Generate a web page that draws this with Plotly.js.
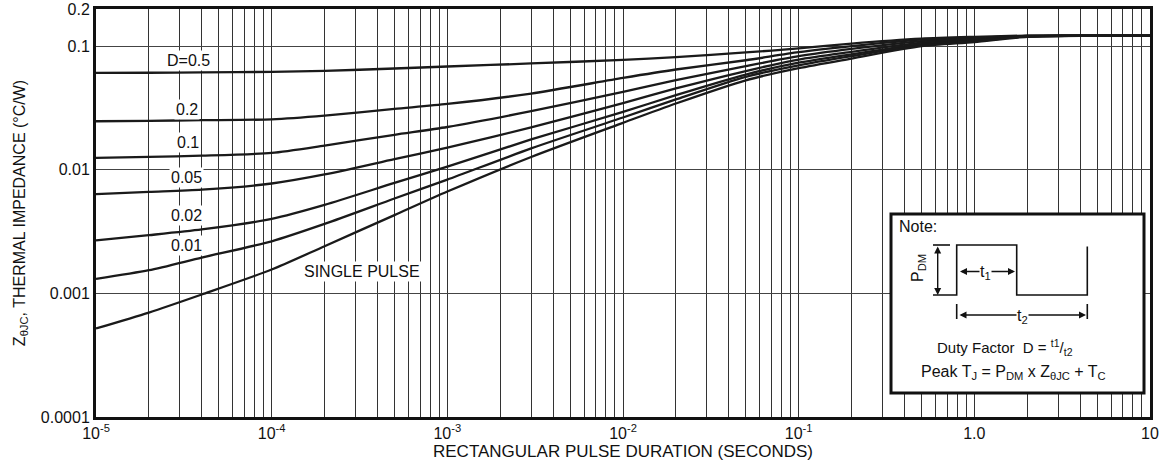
<!DOCTYPE html>
<html><head><meta charset="utf-8">
<script src="https://cdn.plot.ly/plotly-3.0.1.min.js"></script>
<style>html,body{margin:0;padding:0;background:#fff}#chart{width:1161px;height:465px}</style>
</head><body><div id="chart"></div>
<script>
// ---- data ----
const pulseDuration = [1e-5, 2e-5, 4e-5, 1e-4, 2e-4, 5e-4, 1e-3, 3e-3, 1e-2, 2e-2, 5e-2, 1e-1, 2e-1, 5e-1, 1, 2, 5, 10];
const zD050 = [0.0608, 0.0610, 0.0614, 0.0620, 0.0631, 0.0660, 0.0685, 0.0725, 0.0775, 0.0815, 0.0890, 0.0960, 0.105, 0.115, 0.119, 0.122, 0.122, 0.122];
const zD020 = [0.0247, 0.0249, 0.0252, 0.0256, 0.0274, 0.0311, 0.0341, 0.0414, 0.0554, 0.0648, 0.0770, 0.0894, 0.100, 0.113, 0.117, 0.121, 0.122, 0.122];
const zD010 = [0.01247, 0.0127, 0.0130, 0.0137, 0.0157, 0.0192, 0.0222, 0.0298, 0.0427, 0.0531, 0.0690, 0.0830, 0.095, 0.110, 0.115, 0.121, 0.122, 0.122];
const zD005 = [0.00635, 0.00662, 0.0069, 0.00775, 0.00917, 0.0122, 0.0151, 0.0220, 0.0347, 0.0455, 0.0630, 0.0780, 0.090, 0.107, 0.113, 0.120, 0.122, 0.122];
const zD002 = [0.00269, 0.00296, 0.00329, 0.00401, 0.00520, 0.00783, 0.0106, 0.0176, 0.0294, 0.0402, 0.0590, 0.0735, 0.086, 0.104, 0.111, 0.120, 0.122, 0.122];
const zD001 = [0.00131, 0.00154, 0.00195, 0.00264, 0.00365, 0.00586, 0.00833, 0.0149, 0.0265, 0.0371, 0.0565, 0.0700, 0.083, 0.102, 0.110, 0.120, 0.122, 0.122];
const zSingle = [0.00052, 0.00070, 0.00098, 0.00156, 0.00241, 0.00430, 0.00667, 0.0127, 0.0240, 0.0344, 0.0530, 0.0664, 0.0795, 0.100, 0.108, 0.119, 0.122, 0.122];
const seriesNames = ['D=0.5', '0.2', '0.1', '0.05', '0.02', '0.01', 'SINGLE PULSE'];
const seriesValues = [zD050, zD020, zD010, zD005, zD002, zD001, zSingle];

const xTickVals = [1e-5, 1e-4, 1e-3, 1e-2, 1e-1, 1, 10];
const xTickText = ['10<sup>-5</sup>', '10<sup>-4</sup>', '10<sup>-3</sup>', '10<sup>-2</sup>', '10<sup>-1</sup>', '1.0', '10'];
const yTickVals = [0.0001, 0.001, 0.01, 0.1, 0.2];
const yTickText = ['0.0001', '0.001', '0.01', '0.1', '0.2'];

// minor grid positions 2..9 in every decade
const xMinor = [];
xTickVals.slice(0, -1).forEach(d => { for (let k = 2; k <= 9; k++) xMinor.push(d * k); });

// ---- layout helpers (pixel -> paper) ----
const L = 96, T = 9, W = 1054, H = 408;
const px = x => (x - L) / W;
const py = y => 1 - (y - T) / H;
const FONT = 'Liberation Sans, Arial, Helvetica, sans-serif';

const traces = seriesValues.map((v, i) => ({
  x: pulseDuration, y: v, name: seriesNames[i], type: 'scatter', mode: 'lines',
  line: {color: '#1a1a1a', width: 2.3, shape: 'spline', smoothing: 0.7},
  hoverinfo: 'x+y+name'
}));

// curve labels
const labelPos = [[188.7, 60.7], [186.7, 109], [187.7, 142.7], [186.7, 177.3], [186, 215.7], [186, 245.7], [361.7, 271.7]];
const annotations = seriesNames.map((n, i) => ({
  xref: 'paper', yref: 'paper', x: px(labelPos[i][0]), y: py(labelPos[i][1]),
  xanchor: 'center', yanchor: 'middle', text: n, showarrow: false,
  bgcolor: '#fff', borderpad: 1, font: {family: FONT, size: 16, color: '#111'}
}));

function txt(t, x, y, size, opts) {
  return Object.assign({xref: 'paper', yref: 'paper', x: px(x), y: py(y), xanchor: 'center', yanchor: 'middle',
    text: t, showarrow: false, font: {family: FONT, size: size, color: '#111'}}, opts || {});
}
function arrow(hx, hy, tx, ty) {
  return {xref: 'paper', yref: 'paper', x: px(hx), y: py(hy), axref: 'pixel', ayref: 'pixel',
    ax: tx - hx, ay: ty - hy, text: '', showarrow: true, arrowside: 'end+start',
    arrowhead: 2, startarrowhead: 2, arrowsize: 1, startarrowsize: 1, arrowwidth: 1.4,
    arrowcolor: '#111', standoff: 0, startstandoff: 0};
}

// inset
annotations.push(arrow(937.7, 295, 937.7, 245));
annotations.push(arrow(1015, 271.5, 958.5, 271.5));
annotations.push(arrow(1086, 315, 958, 315));
annotations.push(txt('Note:', 897, 226, 16, {xanchor: 'left'}));
annotations.push(txt('P<sub>DM</sub>', 918, 268, 16, {textangle: -90}));
annotations.push(txt('t<sub>1</sub>', 985, 272, 16, {bgcolor: '#fff', borderpad: 0}));
annotations.push(txt('t<sub>2</sub>', 1022, 316, 16, {bgcolor: '#fff', borderpad: 0}));
annotations.push(txt('Duty Factor  D = <sup>t1</sup>/<sub>t2</sub>', 1005, 347, 15));
annotations.push(txt('Peak T<sub>J</sub> = P<sub>DM</sub> x Z<sub>θJC</sub> + T<sub>C</sub>', 1013, 372, 16));
// caption (cut off at bottom of the image, as in the reference)
annotations.push(txt('<b><i>Figure 1. Maximum Effective Transient Thermal Impedance, Junction-to-Case vs. Pulse Duration</i></b>', 570, 462, 15, {yanchor: 'top'}));

const pathOf = pts => pts.map((p, i) => (i ? 'L' : 'M') + px(p[0]).toFixed(5) + ',' + py(p[1]).toFixed(5)).join(' ');
const lineStyle = {color: '#111', width: 1.6};
const shapes = [
  {type: 'rect', xref: 'paper', yref: 'paper', x0: px(891), x1: px(1144), y0: py(393), y1: py(214),
   line: {color: '#111', width: 3}, fillcolor: '#fff', layer: 'above'},
  {type: 'path', xref: 'paper', yref: 'paper', layer: 'above', line: lineStyle,
   path: pathOf([[933, 295], [956.7, 295], [956.7, 245], [1016.7, 245], [1016.7, 295], [1087.3, 295], [1087.3, 246.5]])},
  {type: 'path', xref: 'paper', yref: 'paper', layer: 'above', line: lineStyle, path: pathOf([[933, 245], [950, 245]])},
  {type: 'path', xref: 'paper', yref: 'paper', layer: 'above', line: lineStyle, path: pathOf([[956.7, 304], [956.7, 319]])},
  {type: 'path', xref: 'paper', yref: 'paper', layer: 'above', line: lineStyle, path: pathOf([[1087.3, 304], [1087.3, 319]])}
];

const layout = {
  width: 1161, height: 465,
  margin: {l: L, r: 1161 - L - W, t: T, b: 465 - T - H},
  paper_bgcolor: '#fff', plot_bgcolor: '#fff',
  showlegend: false,
  font: {family: FONT, size: 16, color: '#111'},
  xaxis: {
    type: 'log', range: [-5, 1], autorange: false,
    tickmode: 'array', tickvals: xTickVals, ticktext: xTickText,
    ticks: '', showgrid: true, gridcolor: '#333', gridwidth: 1,
    minor: {tickmode: 'array', tickvals: xMinor, showgrid: true, gridcolor: '#333', gridwidth: 1, ticks: ''},
    showline: true, linecolor: '#111', linewidth: 3, mirror: true, zeroline: false,
    tickfont: {family: FONT, size: 16, color: '#111'},
    title: {text: 'RECTANGULAR PULSE DURATION (SECONDS)', font: {family: FONT, size: 17, color: '#111'}, standoff: 3}
  },
  yaxis: {
    type: 'log', range: [-4, Math.log10(0.2)], autorange: false,
    tickmode: 'array', tickvals: yTickVals, ticktext: yTickText,
    ticks: '', showgrid: true, gridcolor: '#444', gridwidth: 1,
    showline: true, linecolor: '#111', linewidth: 3, mirror: true, zeroline: false,
    tickfont: {family: FONT, size: 16, color: '#111'},
    title: {text: 'Z<sub>θJC</sub>, THERMAL IMPEDANCE (°C/W)', font: {family: FONT, size: 16, color: '#111'}, standoff: 12}
  },
  annotations: annotations,
  shapes: shapes
};

Plotly.newPlot('chart', traces, layout, {displayModeBar: false, staticPlot: true});
</script>
</body></html>
